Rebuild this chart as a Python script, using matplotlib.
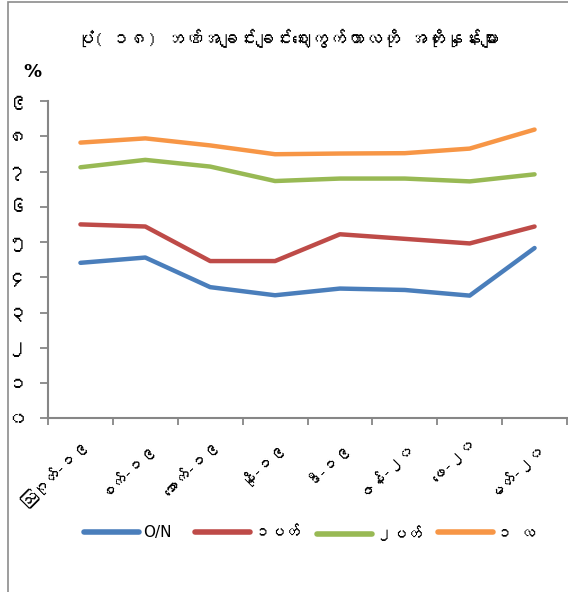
import matplotlib
matplotlib.use("Agg")
import matplotlib.pyplot as plt
from matplotlib.patches import Rectangle
from matplotlib.lines import Line2D
from matplotlib import font_manager
from matplotlib.ft2font import FT2Font

# look for any installed family that covers Myanmar script
myanmar_families = []
for f in font_manager.fontManager.ttflist:
    try:
        cmap = FT2Font(f.fname).get_charmap()
    except Exception:
        continue
    if 0x1000 in cmap and 0x1040 in cmap and f.name not in myanmar_families:
        myanmar_families.append(f.name)

plt.rcParams['font.family'] = myanmar_families + ['DejaVu Sans']

categories = ["ဩဂုတ်-၁၉", "စက်-၁၉", "အောက်-၁၉", "နို-၁၉", "ဒီ-၁၉", "ဇန်-၂၀", "ဖေ-၂၀", "မတ်-၂၀"]
overnight = [4.41, 4.56, 3.72, 3.49, 3.68, 3.64, 3.48, 4.83]
one_week = [5.50, 5.44, 4.46, 4.46, 5.22, 5.09, 4.96, 5.44]
two_week = [7.12, 7.33, 7.14, 6.73, 6.80, 6.80, 6.72, 6.92]
one_month = [7.82, 7.94, 7.74, 7.49, 7.51, 7.52, 7.65, 8.19]
series_names = ["O/N", "၁ပတ်", "၂ပတ်", "၁ လ"]
ytick_labels = ["၀", "၁", "၂", "၃", "၄", "၅", "၆", "၇", "၈", "၉"]
title = "ပုံ( ၁၈) ဘဏ်အချင်းချင်းဈေးကွက်ကာလတို အတိုးနှုန်းများ"

colors = ["#4A7EBB", "#BE4B48", "#98B954", "#F79646"]

W, H = 568, 592
fig = plt.figure(figsize=(W / 100, H / 100), dpi=100)

# chart frame
fig.patches.append(Rectangle((8 / W, -0.05), 1.2, 1 - 2 / H + 0.05, transform=fig.transFigure,
                             fill=False, edgecolor="#8C8C8C", linewidth=1.2))

ax = fig.add_axes([48 / W, (H - 418.3) / H, 519 / W, 317.3 / H])
x = list(range(len(categories)))
lines = []
for vals, c, name in zip([overnight, one_week, two_week, one_month], colors, series_names):
    ln, = ax.plot(x, vals, color=c, linewidth=3.2, solid_capstyle="round", solid_joinstyle="round", label=name)
    lines.append(ln)

ax.set_xlim(-0.5, len(categories) - 0.5)
ax.set_ylim(0, 9)
ax.set_yticks(range(10))
ax.set_yticklabels(ytick_labels, fontsize=14)
ax.set_xticks([i - 0.5 for i in range(len(categories) + 1)])
ax.set_xticklabels([])
ax.set_xticks(x, minor=True)
ax.set_xticklabels(categories, minor=True, rotation=45, ha="right", rotation_mode="anchor", fontsize=11.5)
ax.tick_params(axis="x", which="minor", length=0, pad=13)
ax.tick_params(axis="x", which="major", length=5, color="#868686", width=1.3)
ax.tick_params(axis="y", length=6, color="#868686", width=1.3, pad=9)
for s in ["top", "right"]:
    ax.spines[s].set_visible(False)
for s in ["left", "bottom"]:
    ax.spines[s].set_color("#868686")
    ax.spines[s].set_linewidth(1.5)

fig.text(288 / W, 1 - 38 / H, title, ha="center", va="center", fontsize=13, fontweight="bold")
fig.text(32 / W, 1 - 72 / H, "%", ha="center", va="center", fontsize=13, fontweight="bold",
         family="DejaVu Sans")

# legend: one single-entry legend per series, placed where the reference has them
handle_starts = [84, 195, 317, 438]
for ln, name, xs in zip(lines, series_names, handle_starts):
    fs = 11
    h = Line2D([], [], color=ln.get_color(), linewidth=4, solid_capstyle="round")
    leg = fig.legend([h], [name], loc="center left", bbox_to_anchor=(xs / W, 1 - 533 / H),
                     frameon=False, borderpad=0, borderaxespad=0,
                     handlelength=39.6 / fs, handletextpad=0.25, fontsize=fs)
    if name == "O/N":
        for t in leg.get_texts():
            t.set_family("DejaVu Sans")

fig.savefig("out.png", dpi=100)
